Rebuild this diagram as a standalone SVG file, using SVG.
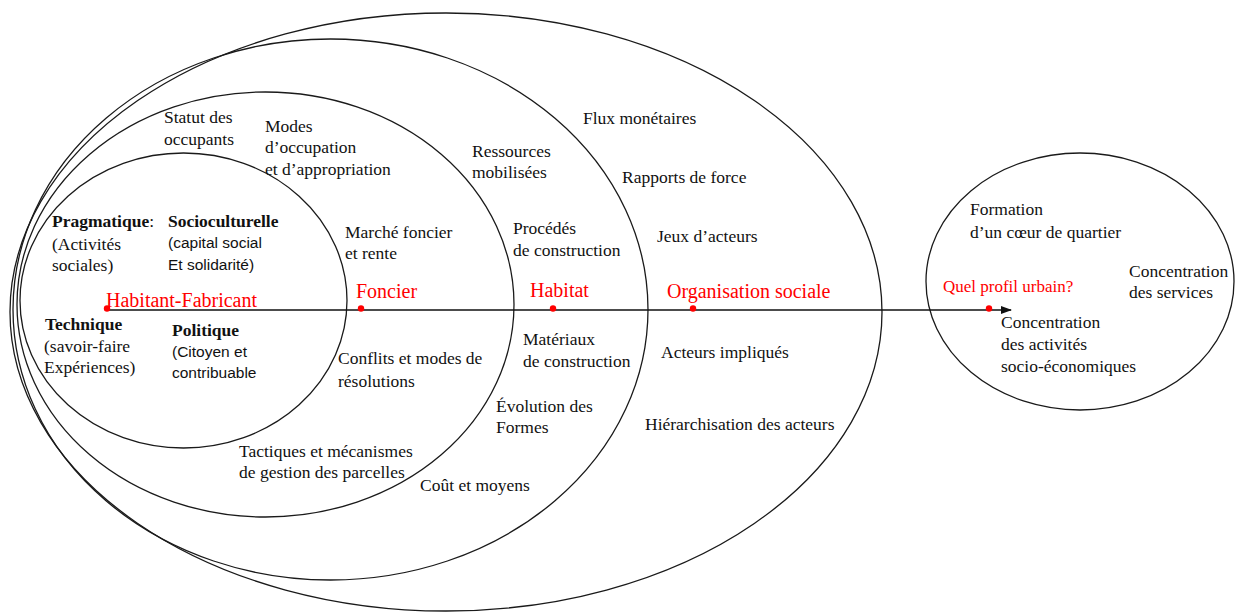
<svg xmlns="http://www.w3.org/2000/svg" width="1235" height="612" viewBox="0 0 1235 612">
<defs>
<marker id="arrow" markerWidth="11" markerHeight="8" refX="10" refY="4" orient="auto" markerUnits="userSpaceOnUse"><path d="M0,0 L11,4 L0,8 z" fill="#111"/></marker>
</defs>
<style>
.ring{fill:none;stroke:#1a1a1a;stroke-width:1.3}
.t{font-family:"Liberation Serif","Times New Roman",serif;font-size:17.5px;fill:#111}
.b{font-weight:bold}
.s{font-family:"Liberation Sans",Arial,sans-serif;font-size:15.5px;fill:#111}
.r{font-family:"Liberation Serif","Times New Roman",serif;font-size:20px;fill:#ff0000}
.dot{fill:#ff0000}
</style>
<rect width="1235" height="612" fill="#ffffff"/>

<g id="organisation-sociale">
<ellipse class="ring" cx="446" cy="312" rx="436" ry="299"/>
<text class="t" x="583" y="124">Flux monétaires</text>
<text class="t" x="622" y="183">Rapports de force</text>
<text class="t" x="657" y="242">Jeux d’acteurs</text>
<text class="t" x="661" y="358">Acteurs impliqués</text>
<text class="t" x="645" y="430">Hiérarchisation des acteurs</text>
</g>

<g id="habitat">
<ellipse class="ring" cx="330.5" cy="309.5" rx="317.5" ry="270.5"/>
<text class="t" x="472" y="157">Ressources</text>
<text class="t" x="472" y="178">mobilisées</text>
<text class="t" x="513" y="234">Procédés</text>
<text class="t" x="513" y="256">de construction</text>
<text class="t" x="523" y="345">Matériaux</text>
<text class="t" x="523" y="367">de construction</text>
<text class="t" x="496" y="412">Évolution des</text>
<text class="t" x="496" y="433">Formes</text>
<text class="t" x="420" y="491">Coût et moyens</text>
</g>

<g id="foncier">
<ellipse class="ring" cx="265.5" cy="304.5" rx="248.5" ry="212.5"/>
<text class="t" x="164" y="123">Statut des</text>
<text class="t" x="164" y="145">occupants</text>
<text class="t" x="265" y="132">Modes</text>
<text class="t" x="265" y="153">d’occupation</text>
<text class="t" x="265" y="175">et d’appropriation</text>
<text class="t" x="345" y="238">Marché foncier</text>
<text class="t" x="345" y="259">et rente</text>
<text class="t" x="338" y="364">Conflits et modes de</text>
<text class="t" x="338" y="387">résolutions</text>
<text class="t" x="239" y="457">Tactiques et mécanismes</text>
<text class="t" x="239" y="478">de gestion des parcelles</text>
</g>

<g id="habitant-fabricant">
<ellipse class="ring" cx="183.5" cy="300.5" rx="163.5" ry="147.5"/>
<text class="t" x="52" y="227"><tspan class="b">Pragmatique</tspan>:</text>
<text class="t" x="52" y="250">(Activités</text>
<text class="t" x="52" y="271">sociales)</text>
<text class="t b" x="168" y="227">Socioculturelle</text>
<text class="s" x="168" y="248">(capital social</text>
<text class="s" x="168" y="270">Et solidarité)</text>
<text class="t b" x="45" y="330">Technique</text>
<text class="t" x="44" y="352">(savoir-faire</text>
<text class="t" x="44" y="373">Expériences)</text>
<text class="t b" x="172" y="336">Politique</text>
<text class="s" x="172" y="357">(Citoyen et</text>
<text class="s" x="172" y="378">contribuable</text>
</g>

<g id="profil-urbain">
<ellipse class="ring" cx="1080" cy="281.5" rx="154" ry="128.5"/>
<text class="t" x="970" y="215">Formation</text>
<text class="t" x="970" y="238">d’un cœur de quartier</text>
<text class="t" x="1129" y="277">Concentration</text>
<text class="t" x="1129" y="298">des services</text>
<text class="t" x="1001" y="328">Concentration</text>
<text class="t" x="1001" y="350">des activités</text>
<text class="t" x="1001" y="372">socio-économiques</text>
</g>

<g id="connectors">
<line x1="107" y1="310" x2="1011" y2="310" stroke="#111" stroke-width="1.4" marker-end="url(#arrow)"/>
</g>

<g id="axis-points">
<circle class="dot" cx="107" cy="308.5" r="3.2"/>
<circle class="dot" cx="361" cy="308.5" r="3.2"/>
<circle class="dot" cx="553" cy="308.5" r="3.2"/>
<circle class="dot" cx="693" cy="308.5" r="3.2"/>
<circle class="dot" cx="989" cy="308.5" r="3.2"/>
<text class="r" x="106" y="307">Habitant-Fabricant</text>
<text class="r" x="356" y="298">Foncier</text>
<text class="r" x="530" y="297">Habitat</text>
<text class="r" x="667" y="298">Organisation sociale</text>
<text class="r" x="943" y="292" style="font-size:17px">Quel profil urbain?</text>
</g>
</svg>
